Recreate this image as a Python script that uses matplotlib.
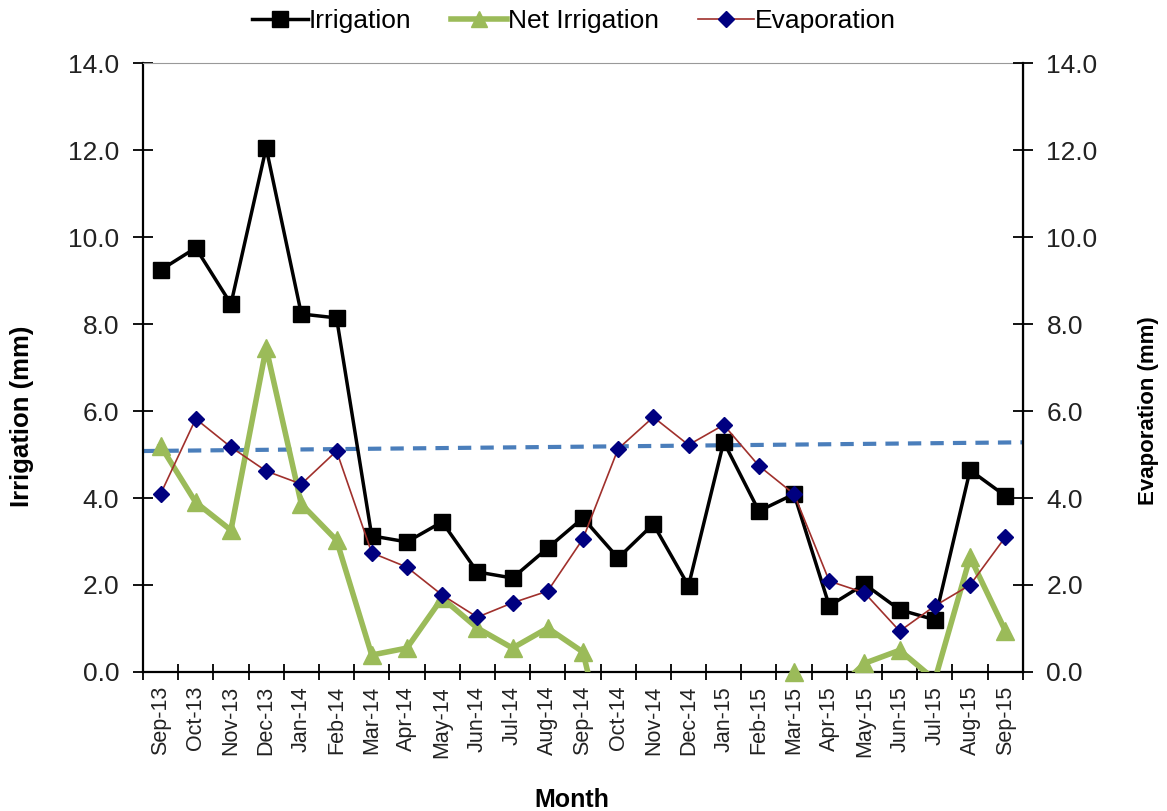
import matplotlib.pyplot as plt
import numpy as np

plt.rcParams['font.family'] = ['Liberation Sans', 'DejaVu Sans']

months = ['Sep-13', 'Oct-13', 'Nov-13', 'Dec-13', 'Jan-14', 'Feb-14', 'Mar-14',
          'Apr-14', 'May-14', 'Jun-14', 'Jul-14', 'Aug-14', 'Sep-14', 'Oct-14',
          'Nov-14', 'Dec-14', 'Jan-15', 'Feb-15', 'Mar-15', 'Apr-15', 'May-15',
          'Jun-15', 'Jul-15', 'Aug-15', 'Sep-15']

irrigation = [9.24, 9.75, 8.46, 12.05, 8.23, 8.14, 3.13, 2.99, 3.45, 2.30, 2.16,
              2.85, 3.54, 2.62, 3.40, 1.98, 5.29, 3.70, 4.09, 1.52, 2.02, 1.43,
              1.20, 4.64, 4.05]

net_irrigation = [5.20, 3.90, 3.26, 7.45, 3.86, 3.03, 0.39, 0.55, 1.70, 1.01, 0.55,
                  1.01, 0.46, -2.9, -2.46, -3.24, -0.39, -1.04, 0.0, -0.57, 0.20,
                  0.50, -0.18, 2.64, 0.95]

evaporation = [4.09, 5.82, 5.17, 4.62, 4.32, 5.08, 2.74, 2.41, 1.77, 1.26, 1.59,
               1.86, 3.06, 5.13, 5.86, 5.22, 5.68, 4.74, 4.09, 2.09, 1.82, 0.94,
               1.52, 2.00, 3.10]

# dashed trend line, value at left and right edge of the plot
trend = [5.08, 5.28]

x = np.arange(len(months))

fig = plt.figure(figsize=(11.67, 8.11), dpi=100)
ax = fig.add_axes([0.1225, 0.1714, 0.754, 0.7509])
ax2 = ax.twinx()

ax.plot([-0.5, len(months) - 0.5], trend, color='#4a7ebb', lw=3, ls=(0, (3.2, 2.2)), zorder=1)

ax.plot(x, irrigation, color='black', lw=2.5, marker='s', ms=11, label='Irrigation', zorder=4)

net = np.array(net_irrigation)
ax.plot(x, net, color='#9bbb59', lw=4, zorder=3)
ax.plot(x[net >= 0], net[net >= 0], ls='none', marker='^', ms=13.5, color='#9bbb59',
        clip_on=False, zorder=3)
# legend proxy
ax.plot([], [], color='#9bbb59', lw=4, marker='^', ms=12, label='Net Irrigation')

ax2.plot(x, evaporation, color='#a0302c', lw=1.2, marker='D', ms=8,
         markerfacecolor='#000080', markeredgecolor='#000080', label='Evaporation', zorder=5)

for a in (ax, ax2):
    a.set_ylim(0, 14)
    a.set_yticks(np.arange(0, 14.1, 2))
    a.set_yticklabels([f'{v:.1f}' for v in np.arange(0, 14.1, 2)])
    a.tick_params(axis='y', direction='inout', length=14, width=1.3, labelsize=19,
                  labelcolor='#222222', pad=10)
ax.set_xlim(-0.5, len(months) - 0.5)
ax.set_xticks(x)
ax.set_xticklabels(months, rotation=90, fontsize=15.5, color='#222222')
ax.set_xticks(np.arange(-0.5, len(months)), minor=True)
ax.tick_params(axis='x', which='major', length=0, pad=10)
ax.tick_params(axis='x', which='minor', direction='inout', length=12, width=1.3)

ax.spines['top'].set_color('#999999')
ax.spines['top'].set_linewidth(0.8)
ax2.spines['top'].set_visible(False)
for s in ('left', 'bottom'):
    ax.spines[s].set_linewidth(1.6)
ax2.spines['right'].set_linewidth(1.6)
ax2.spines['left'].set_visible(False)
ax2.spines['bottom'].set_visible(False)

ax.set_ylabel('Irrigation (mm)', fontsize=18.5, fontweight='bold')
ax.yaxis.set_label_coords(-0.124, 0.42)
ax2.set_ylabel('Evaporation (mm)', fontsize=16, fontweight='bold', rotation=90)
ax2.yaxis.set_label_coords(1.131, 0.43)
ax.set_xlabel('Month', fontsize=18, fontweight='bold')
ax.xaxis.set_label_coords(0.4875, -0.19)

h1, l1 = ax.get_legend_handles_labels()
h2, l2 = ax2.get_legend_handles_labels()
fig.legend(h1 + h2, l1 + l2, loc='center', bbox_to_anchor=(0.492, 0.974), ncol=3,
           frameon=False, fontsize=19, handlelength=2.1, columnspacing=1.5,
           handletextpad=0.05)

fig.savefig('out.png', dpi=100)
